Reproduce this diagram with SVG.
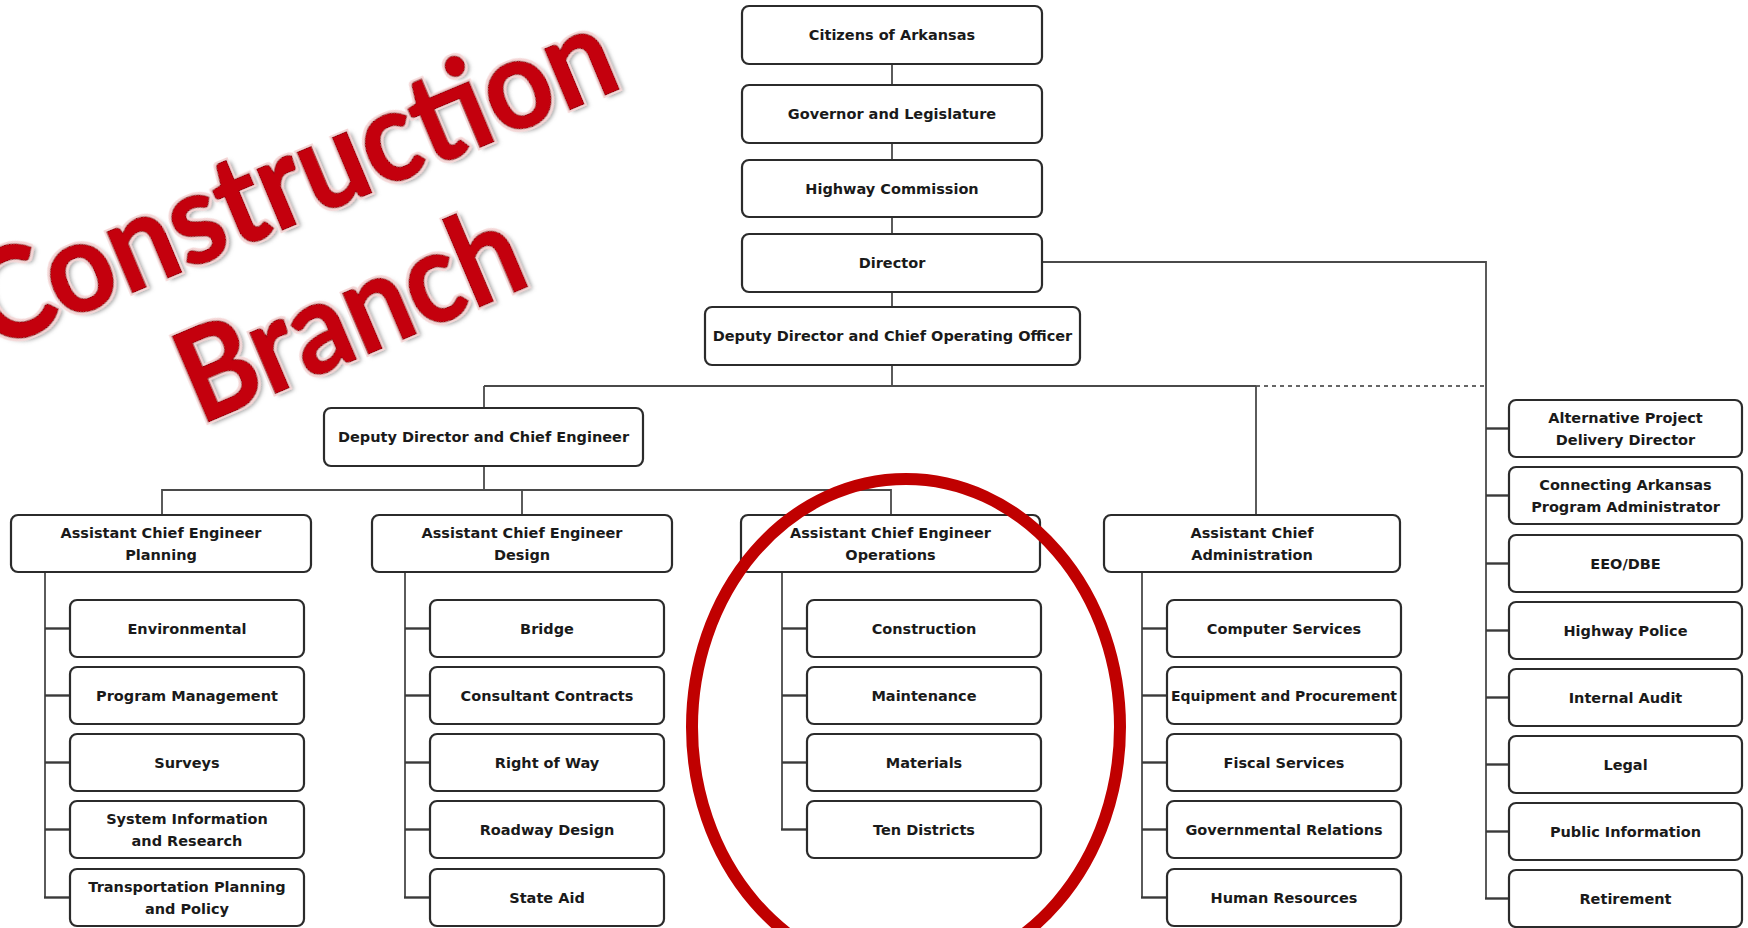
<svg xmlns="http://www.w3.org/2000/svg" width="1748" height="928" viewBox="0 0 1748 928">
<defs>
<style>
.box rect{fill:#ffffff;stroke:#2b2b2b;stroke-width:2.2}
.box text{font-family:"DejaVu Sans",Verdana,sans-serif;font-weight:bold;font-size:14.5px;fill:#1a1a1a;text-anchor:middle}
#connectors line,#connectors path{stroke:#4a4a4a;stroke-width:1.8;fill:none}
#connectors .stub{stroke-width:2.4;stroke:#3a3a3a}
#connectors .dash{stroke-dasharray:4 4;stroke:#666}
.wa{font-family:"Lato","Open Sans",sans-serif;font-weight:700;font-size:126px;fill:#c40010;stroke:#980008;stroke-width:2;paint-order:stroke;filter:url(#wshadow)}
.ring{fill:none;stroke:#c00000;stroke-width:12}
</style>
<filter id="wshadow" x="-10%" y="-30%" width="120%" height="160%">
<feMorphology in="SourceAlpha" operator="dilate" radius="1.5" result="halo"/>
<feFlood flood-color="#f4d6d6"/>
<feComposite in2="halo" operator="in" result="pink"/>
<feGaussianBlur in="SourceAlpha" stdDeviation="2" result="blur"/>
<feOffset in="blur" dx="3" dy="3" result="off"/>
<feFlood flood-color="#666" flood-opacity="0.7"/>
<feComposite in2="off" operator="in" result="shadow"/>
<feMerge><feMergeNode in="shadow"/><feMergeNode in="pink"/><feMergeNode in="SourceGraphic"/></feMerge>
</filter>
</defs>
<rect width="1748" height="928" fill="#ffffff"/>

<g id="connectors">
<line x1="892" y1="64" x2="892" y2="85"/>
<line x1="892" y1="143" x2="892" y2="160"/>
<line x1="892" y1="217" x2="892" y2="234"/>
<line x1="892" y1="292" x2="892" y2="307"/>
<line x1="892" y1="365" x2="892" y2="386"/>
<path d="M1042 262 H1486 V898.5"/>
<line x1="484" y1="386" x2="1256" y2="386"/>
<line class="dash" x1="1256" y1="386" x2="1486" y2="386"/>
<line x1="484" y1="386" x2="484" y2="408"/>
<line x1="1256" y1="386" x2="1256" y2="515"/>
<line x1="484" y1="466" x2="484" y2="490"/>
<path d="M162 515 V490 H891 V515"/>
<line x1="522" y1="490" x2="522" y2="515"/>
<!-- planning spine -->
<line x1="45" y1="572" x2="45" y2="897.5"/>
<line class="stub" x1="45" y1="628.5" x2="70" y2="628.5"/>
<line class="stub" x1="45" y1="695.5" x2="70" y2="695.5"/>
<line class="stub" x1="45" y1="762.5" x2="70" y2="762.5"/>
<line class="stub" x1="45" y1="829.5" x2="70" y2="829.5"/>
<line class="stub" x1="44" y1="897.5" x2="70" y2="897.5"/>
<!-- design spine -->
<line x1="405" y1="572" x2="405" y2="897.5"/>
<line class="stub" x1="405" y1="628.5" x2="430" y2="628.5"/>
<line class="stub" x1="405" y1="695.5" x2="430" y2="695.5"/>
<line class="stub" x1="405" y1="762.5" x2="430" y2="762.5"/>
<line class="stub" x1="405" y1="829.5" x2="430" y2="829.5"/>
<line class="stub" x1="404" y1="897.5" x2="430" y2="897.5"/>
<!-- operations spine -->
<line x1="782" y1="572" x2="782" y2="829.5"/>
<line class="stub" x1="782" y1="628.5" x2="807" y2="628.5"/>
<line class="stub" x1="782" y1="695.5" x2="807" y2="695.5"/>
<line class="stub" x1="782" y1="762.5" x2="807" y2="762.5"/>
<line class="stub" x1="781" y1="829.5" x2="807" y2="829.5"/>
<!-- admin spine -->
<line x1="1142" y1="572" x2="1142" y2="897.5"/>
<line class="stub" x1="1142" y1="628.5" x2="1167" y2="628.5"/>
<line class="stub" x1="1142" y1="695.5" x2="1167" y2="695.5"/>
<line class="stub" x1="1142" y1="762.5" x2="1167" y2="762.5"/>
<line class="stub" x1="1142" y1="829.5" x2="1167" y2="829.5"/>
<line class="stub" x1="1141" y1="897.5" x2="1167" y2="897.5"/>
<!-- right spine stubs -->
<line class="stub" x1="1486" y1="428.5" x2="1509" y2="428.5"/>
<line class="stub" x1="1486" y1="495.5" x2="1509" y2="495.5"/>
<line class="stub" x1="1486" y1="563.5" x2="1509" y2="563.5"/>
<line class="stub" x1="1486" y1="630.5" x2="1509" y2="630.5"/>
<line class="stub" x1="1486" y1="697.5" x2="1509" y2="697.5"/>
<line class="stub" x1="1486" y1="764.5" x2="1509" y2="764.5"/>
<line class="stub" x1="1486" y1="831.5" x2="1509" y2="831.5"/>
<line class="stub" x1="1485" y1="898.5" x2="1509" y2="898.5"/>
</g>

<g id="citizens" class="box"><rect x="742" y="6" width="300" height="58" rx="7"/><text x="892" y="40">Citizens of Arkansas</text></g>
<g id="governor" class="box"><rect x="742" y="85" width="300" height="58" rx="7"/><text x="892" y="119">Governor and Legislature</text></g>
<g id="highway-commission" class="box"><rect x="742" y="160" width="300" height="57" rx="7"/><text x="892" y="193.5">Highway Commission</text></g>
<g id="director" class="box"><rect x="742" y="234" width="300" height="58" rx="7"/><text x="892" y="268">Director</text></g>
<g id="deputy-coo" class="box"><rect x="705" y="307" width="375" height="58" rx="7"/><text x="892.5" y="341">Deputy Director and Chief Operating Officer</text></g>
<g id="deputy-ce" class="box"><rect x="324" y="408" width="319" height="58" rx="7"/><text x="483.5" y="442">Deputy Director and Chief Engineer</text></g>

<g id="ace-planning" class="box"><rect x="11" y="515" width="300" height="57" rx="7"/><text x="161" y="537.5">Assistant Chief Engineer</text><text x="161" y="559.5">Planning</text></g>
<g id="ace-design" class="box"><rect x="372" y="515" width="300" height="57" rx="7"/><text x="522" y="537.5">Assistant Chief Engineer</text><text x="522" y="559.5">Design</text></g>
<g id="ace-operations" class="box"><rect x="741" y="515" width="299" height="57" rx="7"/><text x="890.5" y="537.5">Assistant Chief Engineer</text><text x="890.5" y="559.5">Operations</text></g>
<g id="ac-administration" class="box"><rect x="1104" y="515" width="296" height="57" rx="7"/><text x="1252" y="537.5">Assistant Chief</text><text x="1252" y="559.5">Administration</text></g>

<g id="environmental" class="box"><rect x="70" y="600" width="234" height="57" rx="7"/><text x="187" y="633.5">Environmental</text></g>
<g id="program-management" class="box"><rect x="70" y="667" width="234" height="57" rx="7"/><text x="187" y="700.5">Program Management</text></g>
<g id="surveys" class="box"><rect x="70" y="734" width="234" height="57" rx="7"/><text x="187" y="767.5">Surveys</text></g>
<g id="system-information" class="box"><rect x="70" y="801" width="234" height="57" rx="7"/><text x="187" y="823.5">System Information</text><text x="187" y="845.5">and Research</text></g>
<g id="transportation-planning" class="box"><rect x="70" y="869" width="234" height="57" rx="7"/><text x="187" y="891.5">Transportation Planning</text><text x="187" y="913.5">and Policy</text></g>

<g id="bridge" class="box"><rect x="430" y="600" width="234" height="57" rx="7"/><text x="547" y="633.5">Bridge</text></g>
<g id="consultant-contracts" class="box"><rect x="430" y="667" width="234" height="57" rx="7"/><text x="547" y="700.5">Consultant Contracts</text></g>
<g id="right-of-way" class="box"><rect x="430" y="734" width="234" height="57" rx="7"/><text x="547" y="767.5">Right of Way</text></g>
<g id="roadway-design" class="box"><rect x="430" y="801" width="234" height="57" rx="7"/><text x="547" y="834.5">Roadway Design</text></g>
<g id="state-aid" class="box"><rect x="430" y="869" width="234" height="57" rx="7"/><text x="547" y="902.5">State Aid</text></g>

<g id="construction" class="box"><rect x="807" y="600" width="234" height="57" rx="7"/><text x="924" y="633.5">Construction</text></g>
<g id="maintenance" class="box"><rect x="807" y="667" width="234" height="57" rx="7"/><text x="924" y="700.5">Maintenance</text></g>
<g id="materials" class="box"><rect x="807" y="734" width="234" height="57" rx="7"/><text x="924" y="767.5">Materials</text></g>
<g id="ten-districts" class="box"><rect x="807" y="801" width="234" height="57" rx="7"/><text x="924" y="834.5">Ten Districts</text></g>

<g id="computer-services" class="box"><rect x="1167" y="600" width="234" height="57" rx="7"/><text x="1284" y="633.5">Computer Services</text></g>
<g id="equipment-procurement" class="box"><rect x="1167" y="667" width="234" height="57" rx="7"/><text x="1284" y="700.5" textLength="226" lengthAdjust="spacingAndGlyphs">Equipment and Procurement</text></g>
<g id="fiscal-services" class="box"><rect x="1167" y="734" width="234" height="57" rx="7"/><text x="1284" y="767.5">Fiscal Services</text></g>
<g id="governmental-relations" class="box"><rect x="1167" y="801" width="234" height="57" rx="7"/><text x="1284" y="834.5">Governmental Relations</text></g>
<g id="human-resources" class="box"><rect x="1167" y="869" width="234" height="57" rx="7"/><text x="1284" y="902.5">Human Resources</text></g>

<g id="alternative-project" class="box"><rect x="1509" y="400" width="233" height="57" rx="7"/><text x="1625.5" y="422.5">Alternative Project</text><text x="1625.5" y="444.5">Delivery Director</text></g>
<g id="connecting-arkansas" class="box"><rect x="1509" y="467" width="233" height="57" rx="7"/><text x="1625.5" y="489.5">Connecting Arkansas</text><text x="1625.5" y="511.5">Program Administrator</text></g>
<g id="eeo-dbe" class="box"><rect x="1509" y="535" width="233" height="57" rx="7"/><text x="1625.5" y="568.5">EEO/DBE</text></g>
<g id="highway-police" class="box"><rect x="1509" y="602" width="233" height="57" rx="7"/><text x="1625.5" y="635.5">Highway Police</text></g>
<g id="internal-audit" class="box"><rect x="1509" y="669" width="233" height="57" rx="7"/><text x="1625.5" y="702.5">Internal Audit</text></g>
<g id="legal" class="box"><rect x="1509" y="736" width="233" height="57" rx="7"/><text x="1625.5" y="769.5">Legal</text></g>
<g id="public-information" class="box"><rect x="1509" y="803" width="233" height="57" rx="7"/><text x="1625.5" y="836.5">Public Information</text></g>
<g id="retirement" class="box"><rect x="1509" y="870" width="233" height="57" rx="7"/><text x="1625.5" y="903.5">Retirement</text></g>

<g id="wordart">
<text class="wa" transform="translate(-8,351) rotate(-22.7)" textLength="686" lengthAdjust="spacingAndGlyphs">Construction</text>
<text class="wa" transform="translate(200,425) rotate(-23)" textLength="362" lengthAdjust="spacingAndGlyphs">Branch</text>
</g>

<ellipse id="highlight" class="ring" cx="906" cy="727" rx="214" ry="248"/>
</svg>
